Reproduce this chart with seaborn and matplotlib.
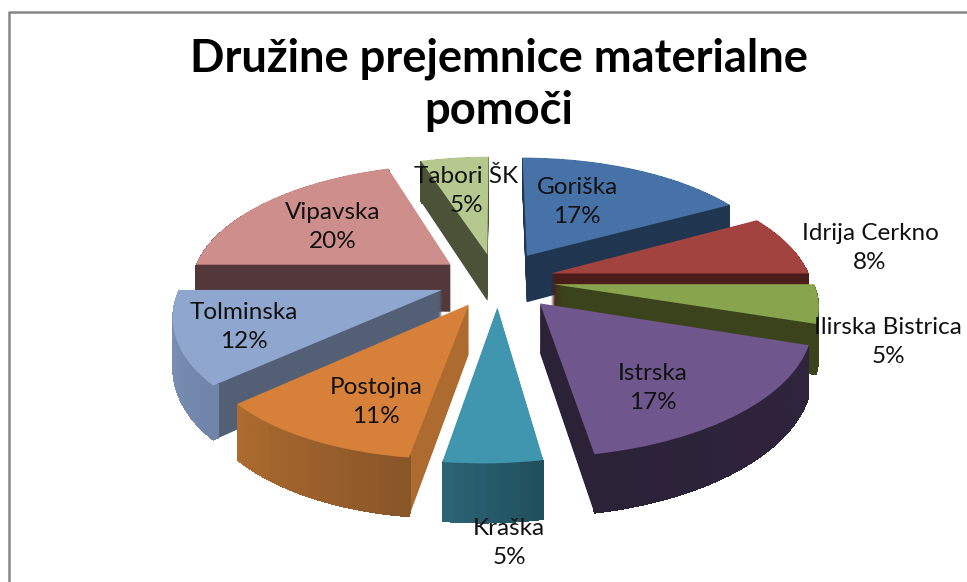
import matplotlib
matplotlib.use("Agg")
import matplotlib.pyplot as plt
import matplotlib.transforms as mtransforms
from matplotlib.colors import to_rgb
from matplotlib.patches import Wedge
import numpy as np
import seaborn as sns

# Data
regions = ["Goriška", "Idrija Cerkno", "Ilirska Bistrica", "Istrska", "Kraška",
           "Postojna", "Tolminska", "Vipavska", "Tabori ŠK"]
shares = [17, 8, 5, 17, 5, 11, 12, 20, 5]
title_text = "Družine prejemnice materialne\npomoči"

# Colours
top_colors = sns.color_palette(["#4672A7", "#A34340", "#88A44C", "#6F568C", "#4096AE",
                                "#D6803A", "#8FA6CE", "#CE8E8C", "#B5C98F"])
cut_colors = ["#20354F", "#4A1C1A", "#3A431C", "#2C2238", "#235463",
              "#AD6B2F", "#535F75", "#52383A", "#4C5238"]
rim_left = ["#20354F", "#4A1C1A", "#3A431C", "#2C2238", "#2B6475",
            "#AD6B2F", "#7F95BB", "#52383A", "#4C5238"]
rim_right = ["#20354F", "#4A1C1A", "#3A431C", "#2F243C", "#1F4D5A",
             "#885528", "#6F84A8", "#52383A", "#4C5238"]

# Layout, in pixels of the 967x582 picture
label_xy = [(577, 202), (870, 248), (888, 342), (653, 388), (509, 543),
            (376, 402), (244, 327), (333, 227), (466, 191)]
draw_order = [8, 0, 7, 1, 6, 2, 5, 3, 4]
explode = [0.24, 0.22, 0.22, 0.25, 0.22, 0.22, 0.22, 0.22, 0.22]
depth = 48
center_x, center_y = 496, 280
scale_x, scale_y, tilt = 260, 121, 0.16
front_skew = 10.5


class Perspective(mtransforms.Transform):
    """Lays the flat pie down on a table, z pixels below the top face."""
    input_dims = 2
    output_dims = 2

    def __init__(self, z=0):
        super().__init__()
        self.z = z

    def transform_non_affine(self, values):
        values = np.asarray(values, dtype=float)
        x, y = values[:, 0], values[:, 1]
        w = 1 + tilt * y
        skew = front_skew * np.minimum(y, 0) ** 2
        return np.column_stack((center_x + scale_x * x / w - skew,
                                center_y + (self.z - scale_y * y) / w))


def flat_pie(ax):
    wedges, _ = ax.pie(shares, explode=explode, startangle=90, counterclock=False)
    return wedges


def place(patch, ax, z, zorder):
    patch.set_transform(Perspective(z) + ax.transData)
    patch.set_zorder(zorder)
    patch.set_clip_on(False)


def main():
    sns.set_theme(style="white")
    plt.rcParams["font.family"] = ["Lato", "DejaVu Sans"]

    fig = plt.figure(figsize=(9.67, 5.82), dpi=100)
    ax = fig.add_axes([0, 0, 1, 1])

    # Walls: one pie per pixel of depth, then thin rim pieces for the outer wall
    for z in range(depth, 0, -1):
        for i, wedge in enumerate(flat_pie(ax)):
            rank = draw_order.index(i)
            wedge.set_facecolor(cut_colors[i])
            wedge.set_edgecolor("none")
            place(wedge, ax, z, 1000 * (rank + 1) + depth - z)
            steps = np.arange(wedge.theta1, wedge.theta2, 2)
            for a in steps:
                t = (a - wedge.theta1) / max(wedge.theta2 - wedge.theta1, 1)
                color = (1 - t) * np.array(to_rgb(rim_left[i])) + t * np.array(to_rgb(rim_right[i]))
                piece = Wedge(wedge.center, 1, a, min(a + 2.5, wedge.theta2), width=0.02,
                              facecolor=color, edgecolor="none", antialiased=False)
                ax.add_patch(piece)
                place(piece, ax, z, 1000 * (rank + 1) + depth - z + 0.5)

    # Top faces
    for i, wedge in enumerate(flat_pie(ax)):
        wedge.set_facecolor(top_colors[i])
        wedge.set_edgecolor("none")
        place(wedge, ax, 0, 1000 * (draw_order.index(i) + 1) + depth + 1)

    ax.set_aspect("auto")
    ax.set_xlim(0, 967)
    ax.set_ylim(582, 0)
    ax.axis("off")

    for name, share, (x, y) in zip(regions, shares, label_xy):
        ax.text(x, y, f"{name}\n{share}%", ha="center", va="center", fontsize=17.5,
                color="#111111", linespacing=1.42, zorder=20000)

    ax.text(499, 85, title_text, ha="center", va="center", fontsize=32.7, fontweight="bold",
            color="black", linespacing=1.28, zorder=20000)

    # Chart frame
    ax.plot([9, 9, 967], [582, 12, 12], color="#868686", lw=1.8, zorder=20000, clip_on=True)

    fig.savefig("out.png", dpi=100, facecolor="white")


if __name__ == "__main__":
    main()
